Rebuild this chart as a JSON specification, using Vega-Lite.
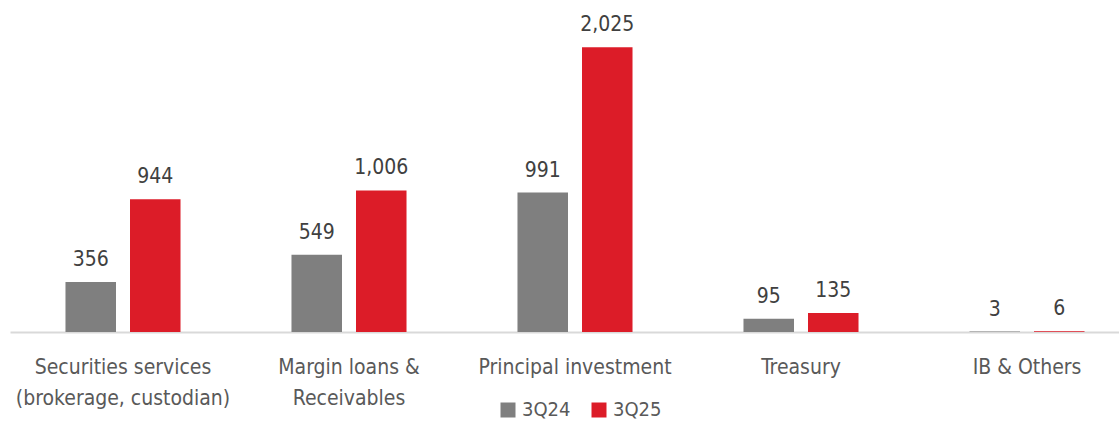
{
  "$schema": "https://vega.github.io/schema/vega-lite/v6.json",
  "width": 1130,
  "height": 332,
  "autosize": {"type": "none"},
  "padding": {"left": 10, "top": 0, "right": 0, "bottom": 90},
  "background": "white",
  "config": {
    "view": {"stroke": null},
    "font": "'DejaVu Sans Condensed', Roboto",
    "text": {"font": "'DejaVu Sans Condensed', Roboto"}
  },
  "data": {
    "values": [
      {"category": "Securities services|(brokerage, custodian)", "period": "3Q24", "value": 356},
      {"category": "Securities services|(brokerage, custodian)", "period": "3Q25", "value": 944},
      {"category": "Margin loans &|Receivables", "period": "3Q24", "value": 549},
      {"category": "Margin loans &|Receivables", "period": "3Q25", "value": 1006},
      {"category": "Principal investment", "period": "3Q24", "value": 991},
      {"category": "Principal investment", "period": "3Q25", "value": 2025},
      {"category": "Treasury", "period": "3Q24", "value": 95},
      {"category": "Treasury", "period": "3Q25", "value": 135},
      {"category": "IB & Others", "period": "3Q24", "value": 3},
      {"category": "IB & Others", "period": "3Q25", "value": 6}
    ]
  },
  "encoding": {
    "x": {
      "field": "category", "type": "nominal", "sort": null,
      "scale": {"paddingInner": 0.491, "paddingOuter": 0.2455},
      "axis": {
        "title": null, "ticks": false, "domainColor": "#d9d9d9", "domainWidth": 2,
        "labelAngle": 0, "labelFontSize": 21, "labelColor": "#595959",
        "labelFont": "'DejaVu Sans Condensed', Roboto",
        "labelPadding": 24, "labelLineHeight": 31, "labelLimit": 400,
        "labelExpr": "split(datum.label, '|')"
      }
    },
    "xOffset": {"field": "period", "type": "nominal", "scale": {"paddingInner": 0.217, "paddingOuter": 0}},
    "y": {"field": "value", "type": "quantitative", "scale": {"domain": [0, 2360]}, "axis": null}
  },
  "layer": [
    {
      "mark": {"type": "bar"},
      "encoding": {
        "color": {
          "field": "period", "type": "nominal",
          "scale": {"domain": ["3Q24", "3Q25"], "range": ["#7f7f7f", "#dc1c28"]},
          "legend": {
            "title": null, "orient": "none", "direction": "horizontal",
            "legendX": 488, "legendY": 400,
            "symbolType": "square", "symbolSize": 225, "symbolStrokeWidth": 0,
            "labelFontSize": 20, "labelColor": "#595959", "labelFont": "'DejaVu Sans Condensed', Roboto",
            "columnPadding": 18, "labelOffset": 4
          }
        }
      }
    },
    {
      "mark": {"type": "text", "dy": -12, "baseline": "bottom", "fontSize": 21, "color": "#404040"},
      "encoding": {
        "text": {"field": "value", "type": "quantitative", "format": ","}
      }
    }
  ]
}
